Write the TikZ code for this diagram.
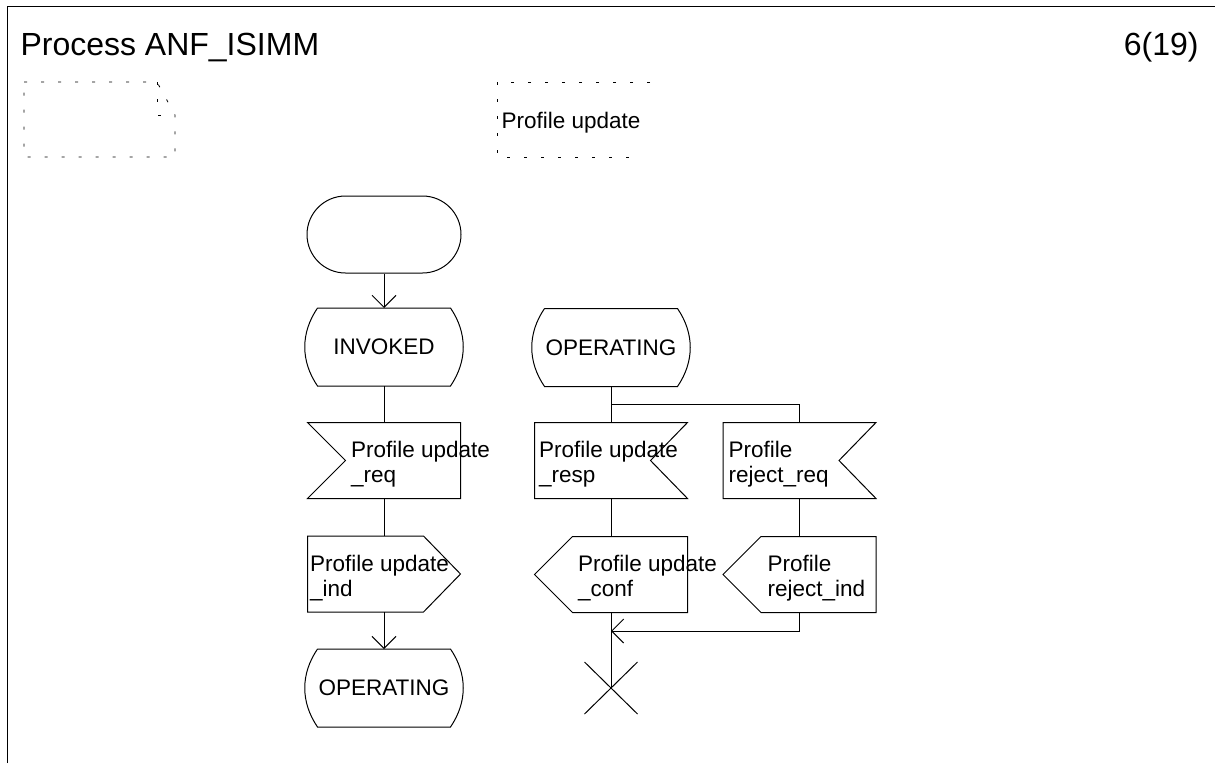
\documentclass[tikz,border=0pt]{standalone}
\usepackage{fontspec}
\setmainfont{Liberation Sans}
\usetikzlibrary{arrows.meta,shapes.misc}

\begin{document}
\begin{tikzpicture}[x=1pt,y=-1pt,>={Straight Barb[length=12pt,width=24pt]},line width=1pt,
    base node/.style={inner sep=0pt,font=\fontsize{22.5}{25}\selectfont},
    head node/.style={inner sep=0pt,font=\fontsize{32}{38}\selectfont},
    start node/.style={base node,draw,rounded corners=38.5pt,minimum width=154pt,minimum height=77pt},
    state node/.style={base node,minimum width=132pt,minimum height=77pt},
    signal node/.style={base node,minimum width=152pt,minimum height=75pt},
    text node/.style={base node,anchor=west,align=left},
    stop node/.style={cross out,draw,inner sep=0pt,minimum width=52pt,minimum height=51pt},
    comment line/.style={line width=0.8pt,dash pattern=on 3pt off 14pt}]

  \useasboundingbox (0,0) rectangle (1215,763);
  \draw (7,763) -- (7,6) -- (1215,6);
  \node[head node,anchor=base west] (title) at (20,55) {Process ANF\_ISIMM};
  \node[head node,anchor=base east] (page) at (1199,55) {6(19)};

  % text symbol and comment
  \draw[comment line] (24,82) -- (157,82) -- (175,115) -- (175,157) -- (24,157) -- cycle;
  \draw[comment line] (157,82) -- (157,115) -- (175,115);
  \draw[comment line] (650,82) -- (497,82) -- (497,157) -- (636,157);
  \node[base node,anchor=base west] (note) at (501,128) {Profile update};

  \node[start node] (1) at (384,234.5) {};
  \node[state node] (2) at (384,347) {INVOKED};
  \node[signal node] (3) at (384,460.5) {};
  \node[signal node] (4) at (384,574) {};
  \node[state node] (5) at (384,688) {OPERATING};
  \node[state node] (6) at (611,347.5) {OPERATING};
  \node[signal node] (7) at (611,460.5) {};
  \node[signal node] (8) at (611,574.5) {};
  \node[signal node] (9) at (799.5,460.5) {};
  \node[signal node] (10) at (799.5,574.5) {};
  \node[stop node] (11) at (611,688) {};

  % outlines
  \foreach \n in {2,5,6}
    \draw (\n.north west) -- (\n.north east) .. controls +(17,25) and +(17,-25) .. (\n.south east)
      -- (\n.south west) .. controls +(-17,-25) and +(-17,25) .. (\n.north west);
  \draw (3.north west) -- (3.north east) -- (3.south east) -- (3.south west) -- ([xshift=38pt]3.west) -- cycle;
  \draw (4.north west) -- ([xshift=-37pt]4.north east) -- (4.east) -- ([xshift=-37pt]4.south east) -- (4.south west) -- cycle;
  \foreach \n in {7,9}
    \draw (\n.north west) -- (\n.north east) -- ([xshift=-37pt]\n.east) -- (\n.south east) -- (\n.south west) -- cycle;
  \foreach \n in {8,10}
    \draw ([xshift=38pt]\n.north west) -- (\n.north east) -- (\n.south east) -- ([xshift=38pt]\n.south west) -- (\n.west) -- cycle;

  \node[text node] (l3) at ([xshift=43pt,yshift=-4pt]3.west) {Profile update\\\_req};
  \node[text node] (l4) at ([xshift=2pt,yshift=-4pt]4.west) {Profile update\\\_ind};
  \node[text node] (l7) at ([xshift=4pt,yshift=-4pt]7.west) {Profile update\\\_resp};
  \node[text node] (l8) at ([xshift=43pt,yshift=-4pt]8.west) {Profile update\\\_conf};
  \node[text node] (l9) at ([xshift=5pt,yshift=-4pt]9.west) {Profile\\reject\_req};
  \node[text node] (l10) at ([xshift=44pt,yshift=-4pt]10.west) {Profile\\reject\_ind};

  \coordinate (fork) at (611,404);
  \coordinate (join) at (611,631);
  \path (1) edge[->] (2)
        (2) edge (3)
        (3) edge (4)
        (4) edge[->] (5)
        (6) edge (7)
        (7) edge (8)
        (9) edge (10);
  \draw (8) -- (11.center);
  \draw (fork) -| (9);
  \draw[->] (10) |- (join);
\end{tikzpicture}
\end{document}
